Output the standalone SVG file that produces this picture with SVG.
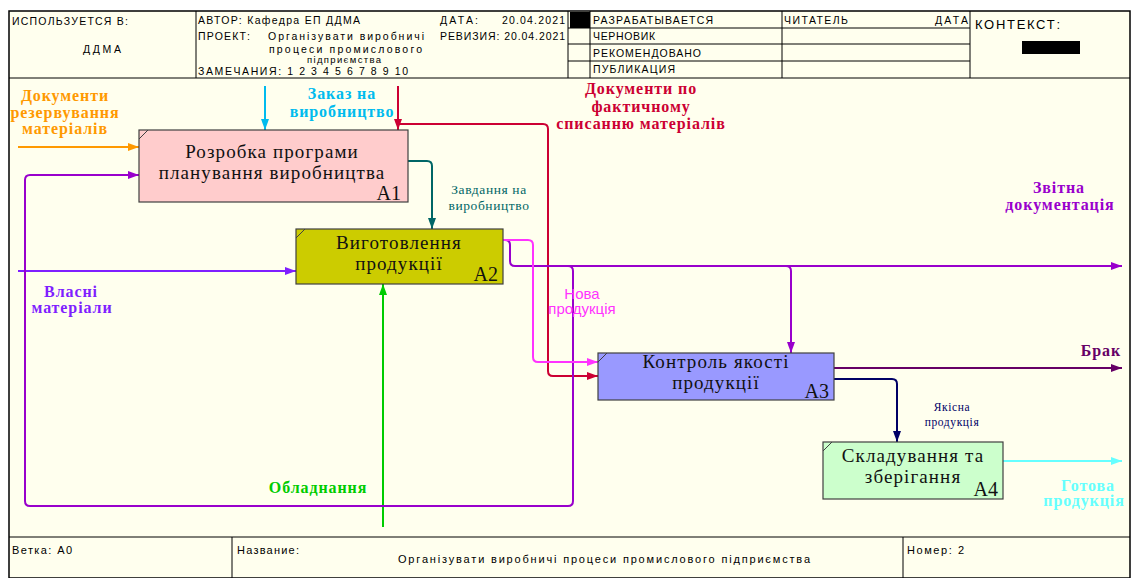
<svg xmlns="http://www.w3.org/2000/svg" width="1132" height="578" viewBox="0 0 1132 578">
<defs>
<style>
.hd{font-family:"Liberation Sans",Arial,sans-serif;font-size:10.5px;fill:#000}
.ft{font-family:"Liberation Sans",Arial,sans-serif;font-size:11px;fill:#000}
.grid{stroke:#000;stroke-width:1;fill:none}
.box{stroke:#404040;stroke-width:1.2}
.bt{font-family:"Liberation Serif","Times New Roman",serif;font-size:19px;fill:#111;text-anchor:middle;letter-spacing:1.1px}
.bn{font-family:"Liberation Serif","Times New Roman",serif;font-size:20px;fill:#111;text-anchor:end}
.lb{font-family:"Liberation Serif","Times New Roman",serif;font-size:16px;font-weight:bold;text-anchor:middle;letter-spacing:0.9px}
.ls{font-family:"Liberation Serif","Times New Roman",serif;font-size:13.5px;text-anchor:middle;letter-spacing:0.6px}
.lsans{font-family:"Liberation Sans",Arial,sans-serif;font-size:15px;text-anchor:middle}
.c{fill:none;stroke-width:2}
</style>
<marker id="mOr" markerUnits="userSpaceOnUse" markerWidth="11" markerHeight="8" refX="11" refY="4" orient="auto"><path d="M0,0 L11,4 L0,8 z" fill="#FF9900"/></marker>
<marker id="mCy" markerUnits="userSpaceOnUse" markerWidth="11" markerHeight="8" refX="11" refY="4" orient="auto"><path d="M0,0 L11,4 L0,8 z" fill="#00BBEE"/></marker>
<marker id="mRd" markerUnits="userSpaceOnUse" markerWidth="11" markerHeight="8" refX="11" refY="4" orient="auto"><path d="M0,0 L11,4 L0,8 z" fill="#CC0033"/></marker>
<marker id="mTl" markerUnits="userSpaceOnUse" markerWidth="11" markerHeight="8" refX="11" refY="4" orient="auto"><path d="M0,0 L11,4 L0,8 z" fill="#006666"/></marker>
<marker id="mVi" markerUnits="userSpaceOnUse" markerWidth="11" markerHeight="8" refX="11" refY="4" orient="auto"><path d="M0,0 L11,4 L0,8 z" fill="#7F1FFF"/></marker>
<marker id="mGr" markerUnits="userSpaceOnUse" markerWidth="11" markerHeight="8" refX="11" refY="4" orient="auto"><path d="M0,0 L11,4 L0,8 z" fill="#00CC00"/></marker>
<marker id="mMg" markerUnits="userSpaceOnUse" markerWidth="11" markerHeight="8" refX="11" refY="4" orient="auto"><path d="M0,0 L11,4 L0,8 z" fill="#FF33FF"/></marker>
<marker id="mPu" markerUnits="userSpaceOnUse" markerWidth="11" markerHeight="8" refX="11" refY="4" orient="auto"><path d="M0,0 L11,4 L0,8 z" fill="#9900CC"/></marker>
<marker id="mDp" markerUnits="userSpaceOnUse" markerWidth="11" markerHeight="8" refX="11" refY="4" orient="auto"><path d="M0,0 L11,4 L0,8 z" fill="#660066"/></marker>
<marker id="mNv" markerUnits="userSpaceOnUse" markerWidth="11" markerHeight="8" refX="11" refY="4" orient="auto"><path d="M0,0 L11,4 L0,8 z" fill="#000066"/></marker>
<marker id="mLc" markerUnits="userSpaceOnUse" markerWidth="11" markerHeight="8" refX="11" refY="4" orient="auto"><path d="M0,0 L11,4 L0,8 z" fill="#66FFFF"/></marker>
</defs>
<rect x="0" y="0" width="1132" height="578" fill="#FFFFFF"/>
<rect x="9" y="11" width="1121" height="567" fill="#FFFFEE" stroke="#000" stroke-width="1.5"/>
<g id="header">
<line class="grid" x1="9" y1="78" x2="1130" y2="78"/>
<line class="grid" x1="196" y1="11" x2="196" y2="78"/>
<line class="grid" x1="568" y1="11" x2="568" y2="78"/>
<line class="grid" x1="590" y1="11" x2="590" y2="78"/>
<line class="grid" x1="782" y1="11" x2="782" y2="78"/>
<line class="grid" x1="970" y1="11" x2="970" y2="78"/>
<line class="grid" x1="568" y1="28" x2="970" y2="28"/>
<line class="grid" x1="568" y1="44" x2="970" y2="44"/>
<line class="grid" x1="568" y1="61" x2="970" y2="61"/>
<rect x="570" y="12" width="20" height="16" fill="#000"/>
<rect x="1022" y="41" width="58" height="13" fill="#000"/>
<text class="hd" x="12" y="25" textLength="116" lengthAdjust="spacing">ИСПОЛЬЗУЕТСЯ В:</text>
<text class="hd" x="83" y="53" textLength="38" lengthAdjust="spacing">ДДМА</text>
<text class="hd" x="198" y="24" textLength="162" lengthAdjust="spacing">АВТОР: Кафедра ЕП ДДМА</text>
<text class="hd" x="440" y="24" textLength="38" lengthAdjust="spacing">ДАТА:</text>
<text class="hd" x="502" y="24" textLength="63" lengthAdjust="spacing">20.04.2021</text>
<text class="hd" x="198" y="40" textLength="52" lengthAdjust="spacing">ПРОЕКТ:</text>
<text class="hd" x="268" y="40" textLength="156" lengthAdjust="spacing">Організувати виробничі</text>
<text class="hd" x="269" y="53" textLength="153" lengthAdjust="spacing">процеси промислового</text>
<text class="hd" x="307" y="63" style="font-size:9.5px" textLength="74" lengthAdjust="spacing">підприємства</text>
<text class="hd" x="198" y="75" textLength="210" lengthAdjust="spacing">ЗАМЕЧАНИЯ:  1  2  3  4  5  6  7  8  9  10</text>
<text class="hd" x="440" y="40" textLength="125" lengthAdjust="spacing">РЕВИЗИЯ: 20.04.2021</text>
<text class="hd" x="593" y="24" textLength="120" lengthAdjust="spacing">РАЗРАБАТЫВАЕТСЯ</text>
<text class="hd" x="593" y="40" textLength="62" lengthAdjust="spacing">ЧЕРНОВИК</text>
<text class="hd" x="593" y="57" textLength="108" lengthAdjust="spacing">РЕКОМЕНДОВАНО</text>
<text class="hd" x="593" y="73" textLength="82" lengthAdjust="spacing">ПУБЛИКАЦИЯ</text>
<text class="hd" x="784" y="24" textLength="64" lengthAdjust="spacing">ЧИТАТЕЛЬ</text>
<text class="hd" x="935" y="24" textLength="33" lengthAdjust="spacing">ДАТА</text>
<text class="hd" x="975" y="29" style="font-size:13px" textLength="85" lengthAdjust="spacing">КОНТЕКСТ:</text>
</g>
<g id="footer">
<line class="grid" x1="9" y1="537" x2="1130" y2="537"/>
<line class="grid" x1="232" y1="537" x2="232" y2="578"/>
<line class="grid" x1="903" y1="537" x2="903" y2="578"/>
<text class="ft" x="12" y="554" textLength="60" lengthAdjust="spacing">Ветка: A0</text>
<text class="ft" x="237" y="554" textLength="62" lengthAdjust="spacing">Название:</text>
<text class="ft" x="398" y="563" textLength="412" lengthAdjust="spacing">Організувати виробничі процеси промислового підприємства</text>
<text class="ft" x="907" y="554" textLength="57" lengthAdjust="spacing">Номер: 2</text>
</g>
<g id="connectors">
<path class="c" stroke="#FF9900" d="M18,147 H139" marker-end="url(#mOr)"/>
<path class="c" stroke="#00BBEE" d="M265,86 V130" marker-end="url(#mCy)"/>
<path class="c" stroke="#CC0033" d="M398,86 V130" marker-end="url(#mRd)"/>
<path class="c" stroke="#CC0033" d="M398,124 H543 Q548,124 548,129 V371 Q548,376 553,376 H598" marker-end="url(#mRd)"/>
<path class="c" stroke="#006666" d="M408,161 H427 Q432,161 432,166 V229" marker-end="url(#mTl)"/>
<path class="c" stroke="#7F1FFF" d="M18,271 H296" marker-end="url(#mVi)"/>
<path class="c" stroke="#00CC00" d="M383,527 V284" marker-end="url(#mGr)"/>
<path class="c" stroke="#9900CC" d="M503,240 H505 Q510,240 510,245 V261 Q510,266 515,266 H1122" marker-end="url(#mPu)"/>
<path class="c" stroke="#9900CC" d="M786,266 Q791,266 791,271 V353" marker-end="url(#mPu)"/>
<path class="c" stroke="#9900CC" d="M568,266 Q573,266 573,271 V501 Q573,506 568,506 H30 Q25,506 25,501 V180 Q25,175 30,175 H139" marker-end="url(#mPu)"/>
<path class="c" stroke="#FF33FF" d="M503,240 H528 Q533,240 533,245 V357 Q533,362 538,362 H598" marker-end="url(#mMg)"/>
<path class="c" stroke="#660066" d="M834,368 H1122" marker-end="url(#mDp)"/>
<path class="c" stroke="#000066" d="M834,379 H892 Q897,379 897,384 V442" marker-end="url(#mNv)"/>
<path class="c" stroke="#66FFFF" d="M1003,461 H1122" marker-end="url(#mLc)"/>
</g>
<g id="labels">
<text class="lb" fill="#FF9900" x="65" y="101">Документи</text>
<text class="lb" fill="#FF9900" x="65" y="118">резервування</text>
<text class="lb" fill="#FF9900" x="65" y="134">матеріалів</text>
<text class="lb" fill="#00BBEE" x="342" y="99">Заказ на</text>
<text class="lb" fill="#00BBEE" x="342" y="117">виробництво</text>
<text class="lb" fill="#CC0033" x="641" y="94">Документи по</text>
<text class="lb" fill="#CC0033" x="641" y="112">фактичному</text>
<text class="lb" fill="#CC0033" x="641" y="129">списанню матеріалів</text>
<text class="ls" fill="#006666" x="489" y="194">Завдання на</text>
<text class="ls" fill="#006666" x="489" y="210">виробництво</text>
<text class="lb" fill="#7F1FFF" x="71" y="297">Власні</text>
<text class="lb" fill="#7F1FFF" x="72" y="313">матеріали</text>
<text class="lb" fill="#00CC00" x="318" y="493">Обладнання</text>
<text class="lb" fill="#9900CC" x="1059" y="193">Звітна</text>
<text class="lb" fill="#9900CC" x="1060" y="210">документація</text>
<text class="lb" fill="#660066" x="1101" y="356">Брак</text>
<text class="ls" fill="#000066" x="952" y="411" style="font-size:11.5px">Якісна</text>
<text class="ls" fill="#000066" x="952" y="426" style="font-size:11.5px">продукція</text>
<text class="lb" fill="#66FFFF" x="1088" y="491">Готова</text>
<text class="lb" fill="#66FFFF" x="1084" y="506">продукція</text>
<text class="lsans" fill="#FF33FF" x="582" y="299">Нова</text>
<text class="lsans" fill="#FF33FF" x="582" y="314">продукція</text>
</g>
<g id="A1">
<rect class="box" x="139" y="130" width="269" height="72" fill="#FFCCCC"/>
<line x1="139" y1="139" x2="148" y2="130" stroke="#404040" stroke-width="1"/>
<text class="bt" x="272" y="158">Розробка програми</text>
<text class="bt" x="272" y="179">планування виробництва</text>
<text class="bn" x="401" y="200">A1</text>
</g>
<g id="A2">
<rect class="box" x="296" y="229" width="207" height="55" fill="#CCCC00"/>
<line x1="296" y1="238" x2="305" y2="229" stroke="#404040" stroke-width="1"/>
<text class="bt" x="399" y="249">Виготовлення</text>
<text class="bt" x="399" y="270">продукції</text>
<text class="bn" x="498" y="281">A2</text>
</g>
<g id="A3">
<rect class="box" x="598" y="353" width="236" height="47" fill="#9999FF"/>
<line x1="598" y1="362" x2="607" y2="353" stroke="#404040" stroke-width="1"/>
<text class="bt" x="716" y="368">Контроль якості</text>
<text class="bt" x="716" y="389">продукції</text>
<text class="bn" x="829" y="398">A3</text>
</g>
<g id="A4">
<rect class="box" x="823" y="442" width="180" height="57" fill="#CCFFCC"/>
<line x1="823" y1="451" x2="832" y2="442" stroke="#404040" stroke-width="1"/>
<text class="bt" x="913" y="462">Складування та</text>
<text class="bt" x="913" y="483">зберігання</text>
<text class="bn" x="998" y="496">A4</text>
</g>
</svg>
